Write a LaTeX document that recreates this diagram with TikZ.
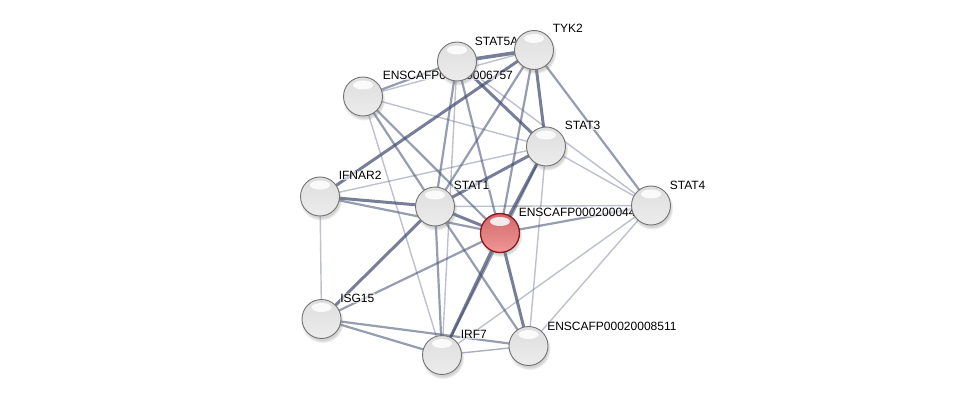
\documentclass[tikz,border=0pt]{standalone}
\usepackage{fontspec}
\setmainfont{Liberation Sans}
\usetikzlibrary{shadows}
\definecolor{edgec}{RGB}{66,76,112}
\definecolor{gtop}{RGB}{222,222,222}
\definecolor{gmid}{RGB}{192,192,192}
\definecolor{gbot}{RGB}{236,236,236}
\definecolor{grim}{RGB}{115,115,115}
\definecolor{rtop}{RGB}{210,105,108}
\definecolor{rmid}{RGB}{198,80,84}
\definecolor{rbot}{RGB}{240,150,150}
\definecolor{rrim}{RGB}{135,25,28}
\pgfdeclarelayer{edges}
\pgfdeclarelayer{labels}
\pgfsetlayers{edges,labels,main}
\begin{document}
\begin{tikzpicture}[x=1pt,y=-1pt,
  edge/.style={line cap=round, draw=edgec},
  wk/.style={edge, line width=1.4pt, draw opacity=0.35},
  md/.style={edge, line width=2.2pt, draw opacity=0.55},
  st/.style={edge, line width=3pt, draw opacity=0.72},
  shine/.style={path picture={\fill[white, opacity=0.85] ([yshift=-8pt]path picture bounding box.north) ellipse (10pt and 4.5pt);}},
  prot/.style={circle, minimum size=39pt, inner sep=0pt, draw=grim, line width=0.9pt,
    top color=gtop, middle color=gmid, bottom color=gbot, shine,
    circular drop shadow={shadow xshift=0.8pt, shadow yshift=-2.5pt, opacity=0.35}},
  redprot/.style={prot, draw=rrim, line width=1.3pt, top color=rtop, middle color=rmid, bottom color=rbot},
  lab/.style={anchor=base west, font=\fontsize{12}{13}\selectfont, inner sep=0.6pt, fill=white, fill opacity=0.6, text opacity=1}]
\useasboundingbox (0,0) rectangle (975,401);

% nodes
\node[prot] (stat5a) at (457,61.5) {};
\node[prot] (tyk2) at (534,50) {};
\node[prot] (e6757) at (363,96.5) {};
\node[prot] (stat3) at (546,146.5) {};
\node[prot] (ifnar2) at (320,196.5) {};
\node[prot] (stat1) at (435,206.5) {};
\node[redprot] (red) at (500,233) {};
\node[prot] (stat4) at (651,205.5) {};
\node[prot] (isg15) at (321.5,319) {};
\node[prot] (irf7) at (442,355) {};
\node[prot] (e8511) at (528.5,346) {};

% labels
\begin{pgfonlayer}{labels}
\node[lab] (l5a) at ([shift={(17,-16)}]stat5a.center) {STAT5A};
\node[lab] (ltyk) at ([shift={(18,-17)}]tyk2.center) {TYK2};
\node[lab] (l6757) at ([shift={(19,-17)}]e6757.center) {ENSCAFP00020006757};
\node[lab] (ls3) at ([shift={(18,-17)}]stat3.center) {STAT3};
\node[lab] (lif) at ([shift={(18,-17)}]ifnar2.center) {IFNAR2};
\node[lab] (ls1) at ([shift={(18,-17)}]stat1.center) {STAT1};
\node[lab] (lred) at ([shift={(18,-17)}]red.center) {ENSCAFP00020004495};
\node[lab] (ls4) at ([shift={(18,-16)}]stat4.center) {STAT4};
\node[lab] (lisg) at ([shift={(18,-17)}]isg15.center) {ISG15};
\node[lab] (lirf) at ([shift={(18,-17)}]irf7.center) {IRF7};
\node[lab] (l8511) at ([shift={(18,-16)}]e8511.center) {ENSCAFP00020008511};
\end{pgfonlayer}

% edges
\begin{pgfonlayer}{edges}
% strong
\draw[st, line width=3.6pt] (stat5a.center) -- (tyk2.center);
\draw[st] (tyk2.center) -- (ifnar2.center);
\draw[st] (tyk2.center) -- (stat3.center);
\draw[st] (stat5a.center) -- (stat3.center);
\draw[st] (stat3.center) -- (stat1.center);
\draw[st] (stat3.center) -- (red.center);
\draw[st] (ifnar2.center) -- (stat1.center);
\draw[st] (stat1.center) -- (red.center);
\draw[st] (stat1.center) -- (isg15.center);
\draw[st] (red.center) -- (irf7.center);
\draw[st] (red.center) -- (e8511.center);
% medium
\draw[md] (tyk2.center) -- (stat4.center);
\draw[md] (tyk2.center) -- (stat1.center);
\draw[md] (tyk2.center) -- (red.center);
\draw[md] (stat5a.center) -- (stat1.center);
\draw[md] (stat5a.center) -- (red.center);
\draw[md] (e6757.center) -- (stat1.center);
\draw[md] (e6757.center) -- (red.center);
\draw[md] (e6757.center) -- (stat5a.center);
\draw[md] (ifnar2.center) -- (red.center);
\draw[md] (stat1.center) -- (irf7.center);
\draw[md] (stat1.center) -- (e8511.center);
\draw[md] (red.center) -- (stat4.center);
\draw[md] (red.center) -- (isg15.center);
\draw[md] (isg15.center) -- (irf7.center);
\draw[md] (isg15.center) -- (e8511.center);
\draw[md] (stat3.center) -- (irf7.center);
% weak
\draw[wk] (e6757.center) -- (tyk2.center);
\draw[wk] (e6757.center) -- (stat3.center);
\draw[wk] (e6757.center) -- (irf7.center);
\draw[wk] (stat3.center) -- (stat4.center);
\draw[wk] (stat3.center) -- (ifnar2.center);
\draw[wk] (stat3.center) -- (e8511.center);
\draw[wk] (ifnar2.center) -- (isg15.center);
\draw[wk] (stat1.center) -- (stat4.center);
\draw[wk] (stat4.center) -- (irf7.center);
\draw[wk] (stat4.center) -- (e8511.center);
\draw[wk, draw opacity=0.45] (irf7.center) -- (e8511.center);
\draw[wk] (stat5a.center) -- (irf7.center);
\draw[wk] (stat5a.center) -- (stat4.center);
\end{pgfonlayer}
\end{tikzpicture}
\end{document}
